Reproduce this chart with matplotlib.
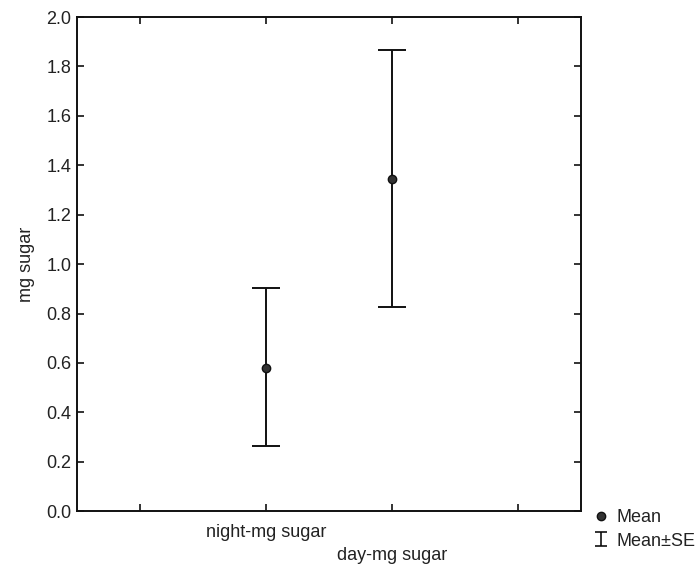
import matplotlib
matplotlib.use("Agg")
import matplotlib.pyplot as plt
from matplotlib.lines import Line2D
from matplotlib.path import Path

plt.rcParams['font.family'] = ['Liberation Sans', 'DejaVu Sans']

categories = ["night-mg sugar", "day-mg sugar"]
means = [0.58, 1.343]
upper = [0.903, 1.865]
lower = [0.262, 0.828]
yticks = [0.0, 0.2, 0.4, 0.6, 0.8, 1.0, 1.2, 1.4, 1.6, 1.8, 2.0]

FS = 13

fig = plt.figure(figsize=(7.0, 5.68), dpi=100)
ax = fig.add_axes([0.11, 0.1, 0.72, 0.87])

xpos = [1.5 + i for i in range(len(categories))]
yerr_lo = [m - l for m, l in zip(means, lower)]
yerr_hi = [u - m for m, u in zip(means, upper)]
ax.errorbar(xpos, means, yerr=[yerr_lo, yerr_hi], fmt='o', color='#333333',
            mec='#111111', ecolor='#111111', elinewidth=1.4, capsize=10, capthick=1.4,
            markersize=6, zorder=3)

ax.set_xlim(0, 4)
ax.set_ylim(0, 2.0)
ax.set_xticks([0.5, 1.5, 2.5, 3.5])
ax.set_xticklabels([])
ax.set_yticks(yticks)
ax.set_yticklabels([f"{v:.1f}" for v in yticks], fontsize=FS, color='#222222')
ax.tick_params(direction='in', length=5, width=1.2, top=True, right=True, color='#111111', pad=4)
for s in ax.spines.values():
    s.set_linewidth(1.4)
    s.set_color('#111111')

tr = ax.get_xaxis_transform()
offsets = [-0.026, -0.073]
for i, (x, c) in enumerate(zip(xpos, categories)):
    ax.text(x, offsets[i % 2], c, transform=tr, ha='center', va='top', fontsize=FS, color='#222222')

ax.set_ylabel("mg sugar", fontsize=FS, labelpad=8, color='#222222')

ibar = Path([(-0.9, 1), (0.9, 1), (0, 1), (0, -1), (-0.9, -1), (0.9, -1)],
            [Path.MOVETO, Path.LINETO, Path.MOVETO, Path.LINETO, Path.MOVETO, Path.LINETO])
h_mean = Line2D([], [], marker='o', ls='none', color='#333333', mec='#111111', markersize=6)
h_se = Line2D([], [], marker=ibar, ls='none', color='#111111', markersize=10,
              markeredgewidth=1.2, fillstyle='none')
leg = ax.legend([h_mean, h_se], ["Mean", "Mean±SE"], loc='lower left',
                bbox_to_anchor=(1.0, -0.1), frameon=False, fontsize=FS,
                handlelength=1.0, handletextpad=0.35, labelspacing=0.35, borderaxespad=0.2)
for t in leg.get_texts():
    t.set_color('#222222')

fig.savefig("out.png", dpi=100, facecolor='white')
